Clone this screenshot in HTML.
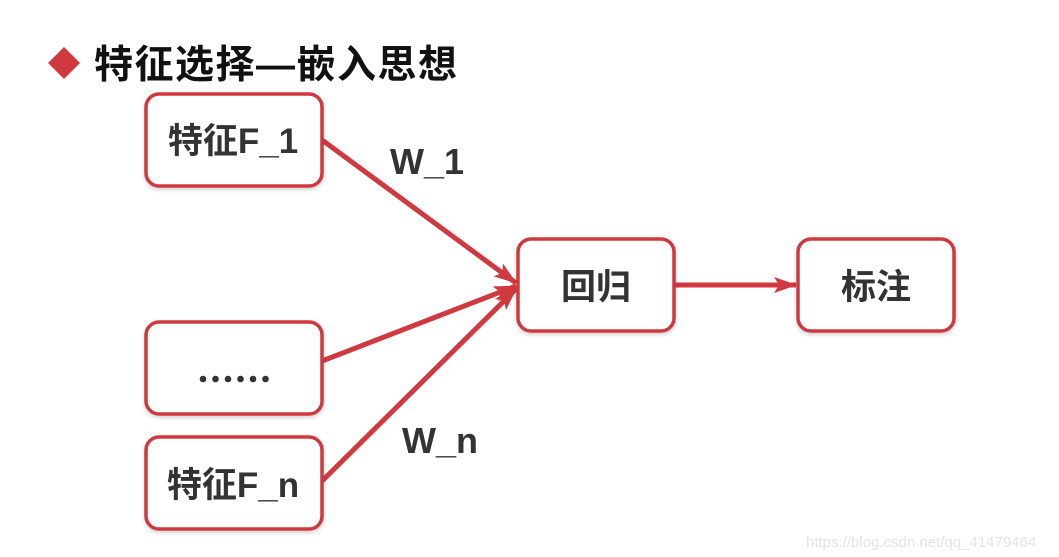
<!DOCTYPE html>
<html><head><meta charset="utf-8"><style>
html,body{margin:0;padding:0;background:#fff;}
svg{display:block;}
text{font-family:"Liberation Sans","Noto Sans CJK SC",sans-serif;font-weight:bold;fill:#333;}
</style></head><body>
<svg width="1059" height="557" viewBox="0 0 1059 557" xmlns="http://www.w3.org/2000/svg">
<defs>
<marker id="ah" markerWidth="24" markerHeight="18" refX="22" refY="9" orient="auto" markerUnits="userSpaceOnUse">
<path d="M0,1 L23,9 L0,17 L5,9 Z" fill="#d0393f"/>
</marker>
<filter id="sh" x="-10%" y="-10%" width="120%" height="130%"><feDropShadow dx="0" dy="2" stdDeviation="2" flood-color="#000" flood-opacity="0.18"/></filter>
</defs>
<polygon points="64,47 80,63 64,79 48,63" fill="#d0393f"/>
<text x="94" y="78" font-size="39" letter-spacing="1.5" style="fill:#111">特征选择—嵌入思想</text>
<g stroke="#d0393f" stroke-width="5" fill="none">
<line x1="322" y1="140" x2="516" y2="283" marker-end="url(#ah)"/>
<line x1="322" y1="361" x2="516" y2="286" marker-end="url(#ah)"/>
<line x1="322" y1="481" x2="516" y2="289" marker-end="url(#ah)"/>
<line x1="674" y1="285" x2="796" y2="285" marker-end="url(#ah)"/>
</g>
<g fill="#fff" stroke="#d0393f" stroke-width="3.5" filter="url(#sh)">
<rect x="146" y="94" width="176" height="92" rx="13"/>
<rect x="146" y="322" width="176" height="92" rx="13"/>
<rect x="146" y="437" width="176" height="92" rx="13"/>
<rect x="518" y="239" width="156" height="92" rx="13"/>
<rect x="798" y="239" width="156" height="92" rx="13"/>
</g>
<text x="233" y="153" font-size="35" text-anchor="middle">特征F_1</text>
<g fill="#333">
<circle cx="203" cy="379" r="3.3"/><circle cx="215.5" cy="379" r="3.3"/><circle cx="228" cy="379" r="3.3"/>
<circle cx="240.5" cy="379" r="3.3"/><circle cx="253" cy="379" r="3.3"/><circle cx="265.5" cy="379" r="3.3"/>
</g>
<text x="233" y="497" font-size="35" text-anchor="middle">特征F_n</text>
<text x="596" y="299" font-size="35" text-anchor="middle">回归</text>
<text x="876" y="299" font-size="35" text-anchor="middle">标注</text>
<text x="390" y="174" font-size="36">W_1</text>
<text x="402" y="453" font-size="36">W_n</text>
<text x="806" y="547" font-size="15" style="font-weight:normal;fill:#e4e4e4">https://blog.csdn.net/qq_41479464</text>
</svg>
</body></html>
